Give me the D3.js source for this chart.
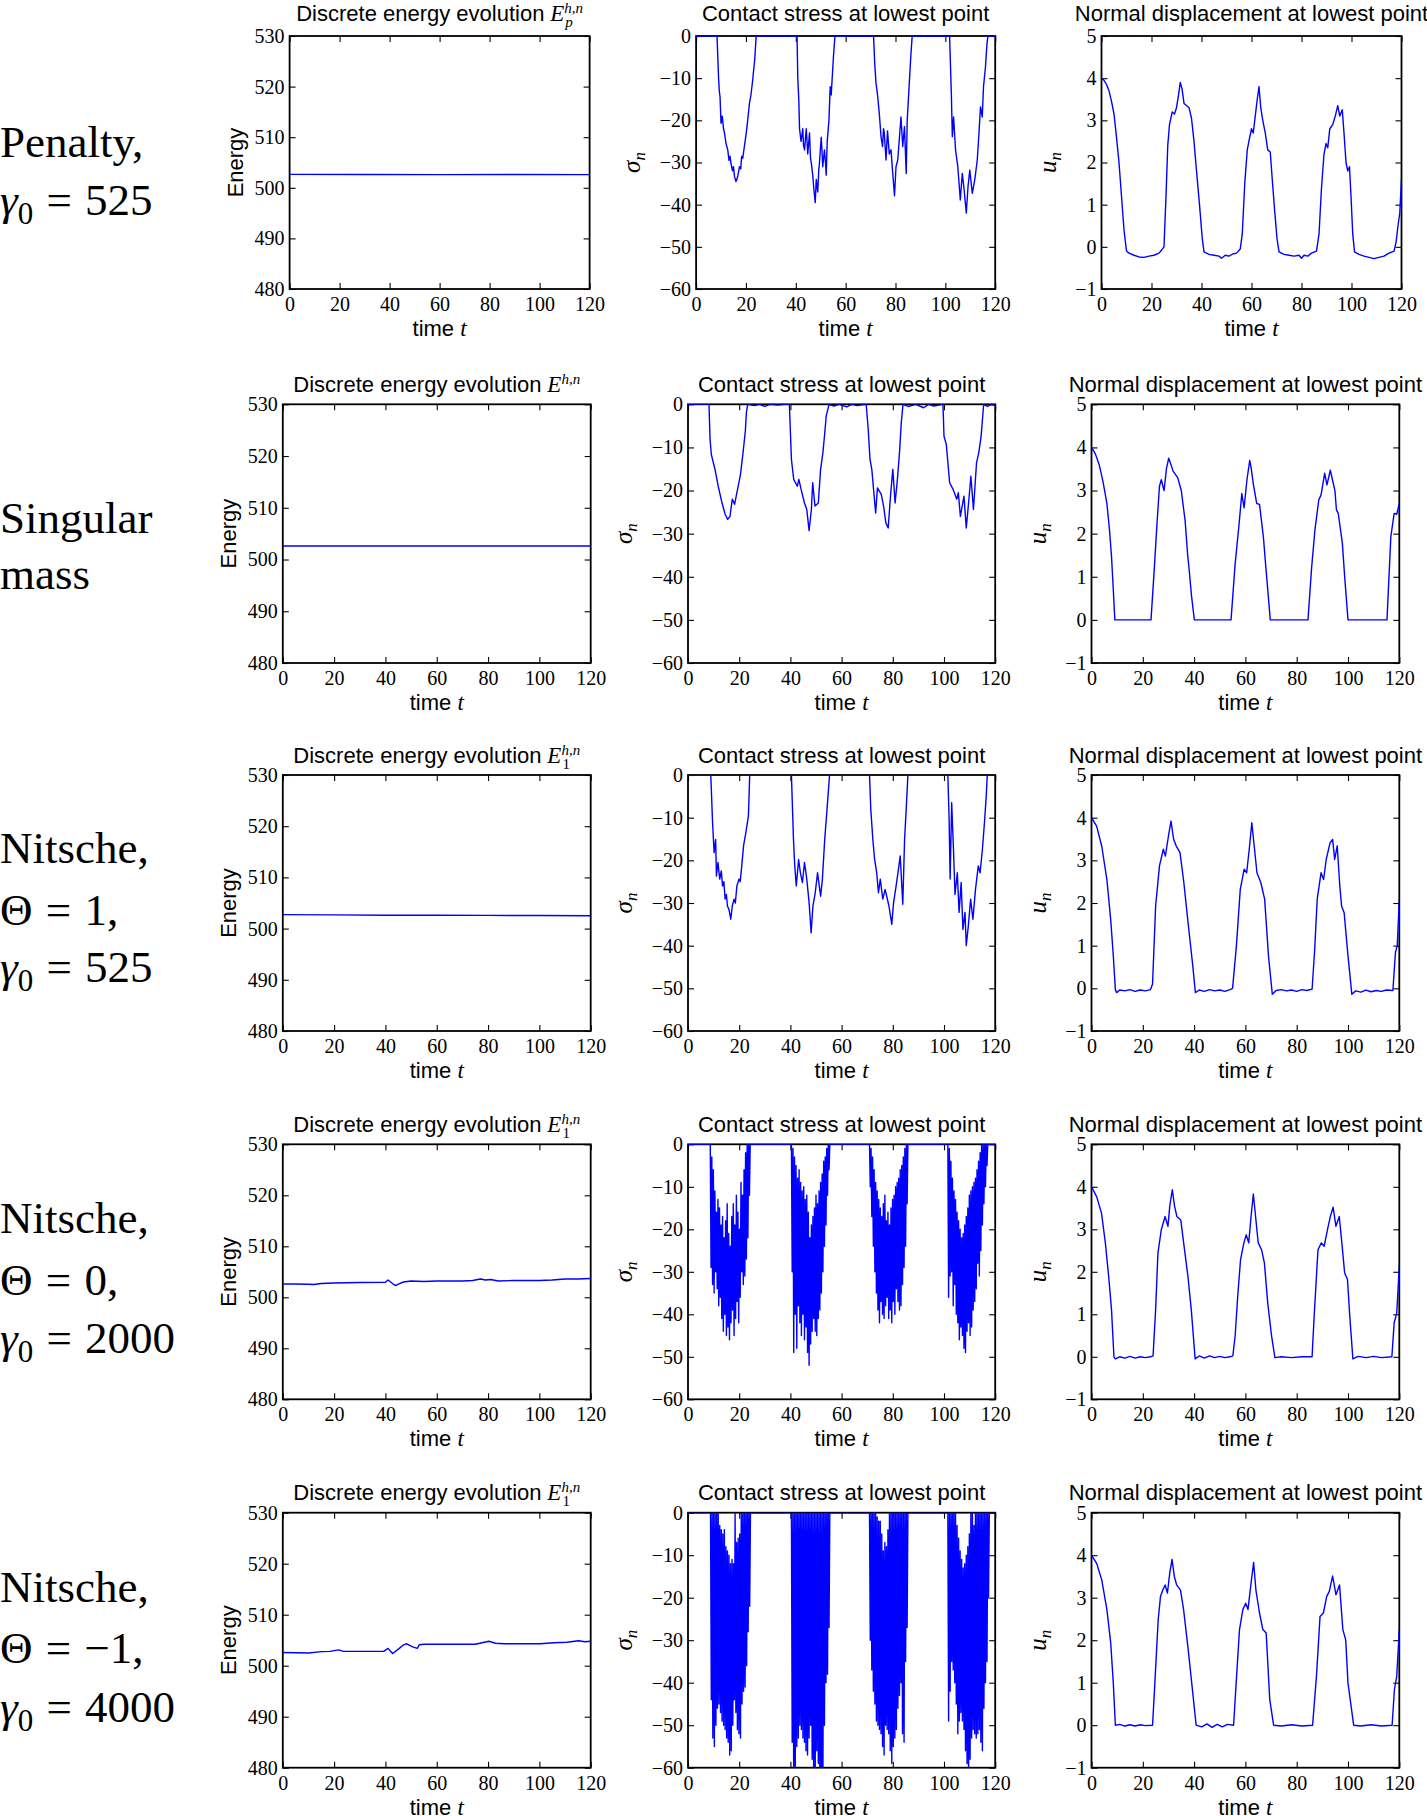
<!DOCTYPE html>
<html>
<head>
<meta charset="utf-8">
<script src="https://d3js.org/d3.v7.min.js"></script>
<style>
body { margin: 0; background: #fff; }
svg { display: block; }
</style>
</head>
<body>
<svg id="fig"></svg>
<script>

// ---------- data ----------
var timeTicks = [0, 20, 40, 60, 80, 100, 120];
var energyTicks = [480, 490, 500, 510, 520, 530];
var stressTicks = [0, -10, -20, -30, -40, -50, -60];
var dispTicks = [-1, 0, 1, 2, 3, 4, 5];

// energy, [t, E]
var energyPenalty = [[0,502.65],[30,502.62],[60,502.6],[90,502.62],[120,502.6]];
var energySingular = [[0,502.62],[40,502.6],[80,502.62],[120,502.6]];
var energyTheta1 = [[0,502.72],[20,502.68],[40,502.62],[60,502.6],[80,502.58],[100,502.55],[120,502.5]];
var energyTheta0 = [[0,502.6],[5,502.6],[10,502.55],[12,502.5],[15,502.7],[20,502.8],[30,502.9],[40,502.95],
  [41,503.4],[42,503.0],[43,502.6],[44,502.3],[45,502.6],[47,503.0],[50,503.2],[55,503.1],[60,503.2],[70,503.2],
  [74,503.3],[77,503.6],[79,503.4],[81,503.5],[84,503.2],[90,503.3],[100,503.3],[105,503.4],[110,503.6],[115,503.6],[120,503.7]];
var energyThetaM1 = [[0,502.6],[10.1,502.5],[15,502.75],[18.3,502.8],[21.8,503.1],[23.6,502.8],[39.3,502.8],[41,503.4],
  [41.9,502.9],[42.8,502.4],[45.4,503.4],[47.1,504.1],[48.3,504.3],[50.6,503.7],[52.4,503.4],[53.2,504.1],[55,504.2],
  [75,504.2],[77.7,504.5],[80.3,504.8],[82.9,504.4],[86.4,504.3],[100.3,504.3],[105.6,504.5],[110.8,504.6],
  [115.2,504.9],[117.8,504.7],[120,504.8]];

// contact stress, [t, sigma_n]
var stressPenalty = [[0,0],[8.4,0],[9.0,-9.7],[9.3,-13],[9.6,-14.4],[10.0,-20.7],[10.5,-19],[11.0,-22],[11.4,-23],
  [12.0,-25.5],[12.7,-27],[13.2,-29.5],[13.6,-28.5],[14.0,-30.2],[14.6,-32],[15.0,-31],[15.4,-33.3],[16.0,-34.5],
  [16.3,-34.1],[16.8,-33],[17.4,-31],[17.9,-31.5],[18.3,-28.5],[18.7,-29],[19.3,-26.5],[20.1,-23.1],[20.7,-20],
  [21.4,-16],[22.0,-14],[22.7,-10.5],[23.1,-8],[23.5,-5.8],[24.1,0],
  [40.5,0],[40.8,-10],[41.2,-15],[41.5,-22],[42.1,-25],[42.8,-22],[43.1,-26],[43.5,-27],[44.2,-22],[44.8,-28],
  [45.5,-23],[45.9,-29],[46.2,-30],[46.8,-33],[47.2,-36],[47.8,-39.5],[48.2,-34],[48.8,-37],[49.2,-32],[49.5,-30],
  [50.2,-24],[50.5,-27],[50.8,-31],[51.5,-27],[51.9,-30],[52.2,-33],[52.6,-25],[53.3,-20],[53.8,-12],[54.2,-14],
  [54.6,-10],[55.1,-5],[55.7,0],
  [71.2,0],[71.7,-7],[72.2,-11.3],[72.8,-14],[73.5,-18.4],[74.2,-23.9],[74.8,-26.2],[75.2,-22],[75.5,-23],
  [76.2,-29.4],[76.8,-22.5],[77.5,-28],[78.2,-27],[78.9,-32.6],[79.6,-37.9],[80.2,-31],[80.9,-29.4],[81.6,-23.9],
  [82.2,-19.2],[82.9,-26.2],[83.6,-21.5],[84.3,-32.6],[84.7,-20],[85.6,-10.5],[86.2,-4.2],[86.7,0],
  [101.7,0],[102.4,-13.6],[102.8,-23.9],[103.3,-19.2],[104.1,-27.1],[105.0,-31],[106.0,-38.9],[106.8,-32.6],
  [107.4,-35.7],[108.4,-42],[109.1,-35.7],[109.8,-31.8],[110.8,-37.3],[111.8,-34.1],[112.8,-29.4],[113.4,-23.9],
  [114.1,-16.8],[114.8,-19.2],[115.3,-12.1],[116.1,-7.3],[116.7,-1.8],[117.1,0],[120,0]];
var stressSingular = [[0,0],[8.2,0],[8.6,-8],[9.1,-11.6],[10.5,-15],[11.8,-19],[13.3,-22.9],[14.5,-25.5],[15.5,-26.7],
  [16.4,-26],[17.3,-22],[18.2,-23.2],[19.1,-20.5],[20.5,-16.3],[21.5,-11.2],[22.4,-6.2],[22.8,-2],[23.3,0],[26,-0.3],
  [28,0],[30,-0.5],[32,0],[35,-0.2],[38,0],[39.6,0],[40.4,-12.8],[41.3,-17.4],[42.7,-19],[43.3,-17.4],[44.2,-19.8],
  [45.5,-22.9],[46.4,-24.4],[47.3,-29.3],[48.2,-24.4],[48.7,-18.2],[49.6,-23.6],[50.9,-22.9],[51.8,-15.1],[52.7,-11.2],
  [53.3,-7.4],[54,-2.7],[55.1,0],[57,-0.4],[59,0],[62,-0.6],[64,0],[66,-0.3],[69.6,0],[70.4,-5.8],[71.1,-12.8],
  [71.8,-15.1],[73.3,-25.2],[74,-19.4],[75.5,-20.9],[76.4,-23.6],[77.3,-27.5],[78.2,-28.7],[79.1,-21.3],[80,-15.1],
  [80.9,-22.9],[81.8,-17.4],[82.7,-10.5],[83.3,-4.3],[84,0],[86,-0.5],[89,0],[92,-0.8],[94,0],[96,-0.4],[99.6,0],
  [100,-7.4],[100.9,-9.3],[102.2,-18.2],[103.6,-19.8],[105,-22],[105.6,-20.5],[106.4,-26],[107.3,-22.9],[107.8,-21.3],
  [108.7,-28.7],[109.6,-22.9],[110.5,-16.7],[111.5,-24.4],[112.7,-13.6],[113.6,-11.2],[114.5,-7.4],[115.5,0],
  [117,-0.5],[118.5,0],[120,-0.3]];
var stressTheta1 = [[0,0],[8.9,0],[9.6,-11.2],[10.2,-18.2],[10.8,-15.1],[11.1,-23.7],[11.7,-20.5],[12.4,-24.4],
  [13.0,-22.5],[13.5,-26],[14.0,-25],[14.5,-29.1],[15.0,-28],[15.4,-30.7],[16.0,-31.5],[16.7,-33.8],[17.3,-30.7],
  [18,-29.1],[18.5,-30],[19.1,-26],[19.9,-24.4],[20.4,-25],[21,-21.3],[21.7,-16.6],[22.6,-13.5],[23.6,-9.6],[24.1,0],
  [40.4,0],[41.2,-15.1],[41.7,-21.3],[42.3,-26],[43.2,-19.8],[43.9,-22.9],[44.7,-25.2],[45.5,-20.5],[46.4,-24.4],
  [47.3,-29.9],[48.1,-37],[48.8,-30.7],[49.7,-27.6],[50.6,-22.9],[51.8,-28.4],[52.5,-24.4],[53.4,-15.1],[54.4,-7.3],
  [55.3,0],
  [70.9,0],[71.4,-8],[72.2,-15.1],[72.9,-19.8],[73.7,-22.9],[74.4,-27.6],[75.1,-24.4],[76.1,-29.1],[77,-26.8],
  [78.5,-30.7],[79.6,-35],[80.3,-29.9],[81.3,-26],[82.2,-22.1],[82.9,-19],[83.9,-30.3],[84.6,-15.1],[85.3,-7.3],[85.9,0],
  [101.5,0],[102,-10.4],[102.4,-24.4],[103,-6.5],[103.7,-17.4],[104.3,-28],[105.2,-22.9],[105.9,-32.2],[106.7,-25.2],
  [107.4,-36.2],[108.2,-32.2],[108.7,-40],[109.5,-35.4],[110.4,-29.1],[111.3,-33.8],[112.3,-26.8],[113.4,-21.3],
  [114.1,-22.9],[115,-17.4],[115.9,-10.4],[116.5,-4.9],[116.9,0],[120,0]];

// dense chattering stress: [start time, values every burstStep]
var burstStep = 0.3;
var stressTheta0Bursts = [
  [8.7, [0,-29,-3,-33,-6,-35,-11,-30,-16,-34,-13,-38,-15,-36,-19,-41,-17,-44,-22,-40,-18,-45,-14,-43,-21,-46,-24,-42,
         -17,-39,-14,-45,-19,-41,-12,-37,-16,-42,-20,-36,-9,-30,-12,-33,-6,-31,-2,-27,0,-22,0,-12,0]],
  [40.4, [0,-30,-1,-49,-3,-40,-5,-48,-8,-38,-6,-42,-9,-45,-11,-40,-10,-46,-13,-43,-12,-49,-16,-52,-22,-47,-19,-44,
          -17,-41,-15,-44,-12,-45,-14,-41,-11,-39,-9,-35,-7,-30,-4,-24,-3,-19,-1,-12,0,-6,0,0]],
  [70.9, [0,-10,-1,-17,-3,-24,-6,-30,-9,-35,-11,-39,-13,-42,-15,-37,-17,-40,-14,-41,-12,-38,-18,-36,-16,-41,-19,-39,
          -15,-42,-13,-37,-12,-40,-10,-34,-9,-37,-8,-39,-6,-38,-5,-33,-3,-29,-1,-24,0,-14,0,0]],
  [101.5, [0,-36,-1,-31,-4,-30,-8,-38,-11,-33,-13,-40,-16,-42,-18,-46,-20,-43,-22,-45,-21,-48,-19,-49,-17,-44,-15,-42,
           -12,-45,-11,-43,-10,-39,-9,-37,-8,-34,-6,-28,-4,-31,-2,-25,0,-19,0,-14,0,-10,0,-5,0]]
];
var stressThetaM1Bursts = [
  [8.8, [0,-44,0,-53,0,-55,0,-50,0,-46,0,-45,-3,-47,-4,-49,-5,-50,-4,-51,-8,-53,-9,-54,-10,-57,-12,-56,-11,-50,-12,-44,
         0,-47,-7,-51,-6,-52,-5,-53,0,-45,0,-42,0,-41,0,-36,0,-28,0,-22,0,0]],
  [40.4, [0,-54,0,-65,0,-60,0,-55,0,-53,0,-50,0,-51,0,-53,0,-54,0,-56,0,-57,0,-53,0,-50,0,-58,0,-65,0,-61,0,-56,0,-59,
          0,-64,0,-66,0,-65,0,-50,0,-40,0,-38,0,-27,0,0]],
  [70.9, [0,-30,0,-37,0,-42,0,-45,0,-49,-1,-50,-2,-51,-2,-52,-5,-55,-9,-57,-7,-50,-8,-51,-4,-52,0,-56,0,-59,0,-55,0,-53,
          0,-51,0,-46,0,-43,0,-40,0,-52,0,-54,0,-35,0,-27,0,0]],
  [101.5, [0,-49,0,-42,0,-35,0,-37,0,-40,0,-45,-3,-52,-6,-49,-9,-47,-11,-49,-13,-51,-12,-56,-10,-59,-8,-63,-5,-58,0,-53,
           0,-51,-3,-52,0,-53,0,-52,0,-51,0,-54,0,-56,0,-46,0,-40,0,-35,0,-20,0]]
];

// normal displacement, [t, u_n]
var dispPenalty = [[0,4.0],[1,3.95],[2,3.85],[3,3.7],[4,3.45],[5,3.15],[6,2.6],[7,2.0],[8,1.2],[9,0.4],[10,-0.1],
  [11,-0.15],[13,-0.2],[15,-0.24],[17,-0.25],[19,-0.22],[21,-0.2],[23,-0.15],[24,-0.08],[25,0.0],[25.8,1.2],[26.5,2.4],
  [27.2,2.9],[28.3,3.2],[29.2,3.15],[30,3.3],[30.8,3.6],[31.5,3.9],[32.2,3.75],[33,3.4],[34,3.35],[35,3.3],[36,3.05],
  [37,2.5],[38,1.8],[39.2,1.0],[40.3,0.2],[41,-0.12],[43,-0.18],[45,-0.2],[47,-0.22],[48,-0.27],[49.5,-0.2],[51,-0.22],
  [52.5,-0.17],[54,-0.15],[55.5,-0.05],[56.3,0.3],[57.3,1.5],[58.3,2.3],[59.3,2.6],[60,2.8],[60.7,2.7],[61.5,3.1],
  [62.3,3.5],[63,3.8],[63.7,3.3],[64.5,3.0],[65.5,2.7],[66.5,2.3],[67.5,2.25],[68.3,1.6],[69.2,0.9],[70.2,0.2],
  [71,-0.12],[73,-0.18],[75,-0.2],[77,-0.22],[79,-0.2],[80,-0.27],[81,-0.2],[82.5,-0.22],[84,-0.15],[86,-0.1],[87,0.3],
  [88,1.4],[89,2.2],[89.8,2.45],[90.5,2.35],[91.3,2.8],[92.5,2.9],[93.5,3.1],[94.5,3.35],[95.3,3.1],[96.3,3.25],
  [97,2.7],[97.8,2.0],[98.5,1.8],[99.2,1.9],[99.8,1.2],[100.5,0.3],[101.2,-0.12],[103,-0.18],[105,-0.22],[107,-0.25],
  [109,-0.28],[111,-0.25],[113,-0.22],[115,-0.15],[117,-0.1],[117.8,0.1],[118.6,0.5],[119.3,0.8],[120,1.6]];
var dispSingular = [[0,4.0],[1.5,3.85],[3,3.6],[4.5,3.2],[6,2.7],[7,2.1],[7.8,1.47],[8.5,0.7],[9.1,0],[23.2,0],
  [24.5,1.2],[25.5,2.2],[26.5,3.1],[27.2,3.25],[28.3,3.0],[29.2,3.5],[30.1,3.75],[31,3.6],[31.8,3.45],[33.6,3.3],
  [35,3.0],[36.5,2.3],[37.5,1.5],[38.1,1.15],[39,0.55],[40.1,0],[54.4,0],[56,1.3],[57.5,2.2],[58.6,2.93],[59.5,2.6],
  [60.6,3.25],[61.7,3.7],[62.3,3.5],[63.1,3.15],[64.4,2.7],[65.5,2.68],[67,1.93],[68,1.2],[69.7,0],[84.4,0],[85.8,1.2],
  [87.1,2.08],[88.6,2.78],[89.5,2.9],[90.9,3.4],[91.8,3.13],[93.1,3.47],[94.9,3.0],[95.5,2.55],[96.2,2.47],[97.8,1.78],
  [98.7,1.0],[100,0],[115.2,0],[116.7,1.93],[118,2.47],[119,2.45],[120,2.7]];
var dispTheta1 = [[0,4.0],[2,3.8],[4,3.33],[6,2.55],[7.5,1.6],[8.5,0.76],[9.3,-0.03],[9.8,-0.1],[11,-0.04],[13,-0.06],
  [15,-0.03],[17,-0.07],[19,-0.04],[21,-0.06],[23,-0.03],[23.8,0.1],[25,1.93],[26.5,2.87],[28,3.26],[28.8,3.1],[30,3.57],
  [31,3.92],[32,3.5],[33,3.34],[34.5,3.18],[36,2.48],[37.5,1.62],[39.5,0.52],[40.5,-0.1],[42,-0.04],[44,-0.07],
  [46,-0.03],[48,-0.06],[50,-0.04],[52,-0.07],[54,-0.03],[55,0.0],[56.5,1.0],[58,2.32],[59.5,2.79],[60.5,2.71],
  [61.5,3.26],[62.5,3.88],[63.5,3.3],[64.5,2.71],[66,2.48],[67.5,2.09],[69,0.76],[70.5,-0.14],[72,-0.05],[74,-0.03],
  [76,-0.06],[78,-0.04],[80,-0.07],[82,-0.03],[84,-0.05],[86,-0.02],[87,0.9],[88,2.09],[89.5,2.71],[90.5,2.55],
  [91.5,3.02],[93,3.41],[94,3.49],[94.8,3.02],[95.8,3.34],[96.8,2.4],[97.5,1.93],[98.5,1.77],[100,0.76],[101.5,-0.14],
  [103,-0.06],[105,-0.09],[107,-0.04],[109,-0.08],[111,-0.05],[113,-0.07],[115,-0.04],[117.5,-0.05],[118.5,0.84],
  [119.2,1.0],[120,2.09]];
var dispTheta0 = [[0,4.0],[2,3.77],[3.9,3.38],[5.4,2.68],[6.7,1.89],[7.8,1.11],[8.75,0],[9.3,-0.05],[11,0],[13,-0.03],
  [15,0.01],[17,-0.03],[19,0],[21,-0.02],[23,0],[24,0.02],[25,1.11],[25.9,2.44],[27.2,2.99],[28.7,3.3],[29.8,3.07],
  [30.5,3.54],[31.5,3.93],[32.4,3.54],[33.3,3.3],[34.8,3.22],[36.1,2.6],[37.6,1.89],[38.9,1.11],[40.4,-0.05],[42,0.02],
  [44,-0.03],[46,0.02],[48,-0.02],[50,0.01],[52,-0.02],[54,0],[55.1,0.02],[56,0.49],[57,1.42],[58.1,2.28],[59.4,2.68],
  [60.3,2.87],[61.3,2.68],[62.2,3.3],[63.1,3.83],[64.1,3.22],[65,2.68],[66.3,2.52],[67.4,2.21],[68.7,1.27],[70.2,0.49],
  [71.5,-0.02],[74,0],[78,-0.02],[82,0],[86,0],[86.8,0.95],[88.3,2.52],[89.6,2.68],[90.7,2.6],[92,2.99],[93.1,3.3],
  [94.2,3.52],[95.3,3.07],[96.6,3.3],[97.6,2.68],[98.7,1.97],[99.8,1.82],[100.7,0.95],[101.9,-0.05],[104,0.01],
  [107,-0.02],[110,0.01],[113,-0.02],[117.1,0],[118,0.8],[119,1.03],[120,2.13]];
var dispThetaM1 = [[0,4.0],[2,3.81],[4,3.42],[6,2.72],[7.5,1.93],[8.5,0.99],[9.3,0],[11,0.02],[13,-0.02],[15,0.01],
  [17,-0.02],[19,0.01],[21,-0.01],[23.8,0],[24.7,0.99],[26,2.48],[26.9,3.03],[27.8,3.18],[28.7,3.3],[29.6,3.11],
  [30.5,3.58],[31.4,3.9],[32.3,3.5],[33.2,3.3],[34.7,3.18],[35.9,2.72],[37.7,1.78],[39.2,0.92],[40.8,0],[43,-0.04],
  [45,0.03],[47,-0.05],[49,0.02],[51,-0.04],[53,0.02],[55.4,0],[56.4,0.99],[57.7,2.25],[59,2.72],[60.1,2.87],[61,2.72],
  [62.2,3.34],[63.2,3.83],[64.1,3.18],[65.5,2.64],[66.8,2.25],[68.1,2.17],[69.5,0.6],[71,0],[74,-0.02],[78,0.01],
  [82,-0.02],[86.2,0],[87.7,1.15],[89.1,2.56],[90.4,2.64],[91.7,3.03],[92.7,3.15],[94,3.51],[95.3,3.07],[96.7,3.3],
  [98,2.25],[99.1,2.01],[100,0.99],[102.2,0],[105,-0.02],[109,0.01],[113,-0.02],[117.2,0],[118.1,0.84],[119,1.15],[120,2.25]];

// ---------- layout ----------
var SANS = "'Liberation Sans', Arial, sans-serif";
var SERIF = "'Liberation Serif', 'Times New Roman', serif";
var LINE = "#0000ff";

var colsFirst = [[289.6, 589.6], [696.1, 995.2], [1101.5, 1401.5]];
var colsRest = [[282.8, 590.7], [688, 995.2], [1091.5, 1399.3]];

var rows = [
  {top: 36, bottom: 289, cols: colsFirst, titleY: 21,
   label: [[["Penalty,","r"]], [["\u03b3","i"],["0","s"],[" = 525","r"]]], labelY: [157, 215],
   energy: energyPenalty, eSub: ["p", true], stress: stressPenalty, disp: dispPenalty},
  {top: 404.3, bottom: 663, cols: colsRest, titleY: 392,
   label: [[["Singular","r"]], [["mass","r"]]], labelY: [533, 589],
   energy: energySingular, eSub: null, stress: stressSingular, disp: dispSingular},
  {top: 775, bottom: 1031, cols: colsRest, titleY: 763,
   label: [[["Nitsche,","r"]], [["\u0398 = 1,","r"]], [["\u03b3","i"],["0","s"],[" = 525","r"]]], labelY: [863, 925, 982],
   energy: energyTheta1, eSub: ["1", false], stress: stressTheta1, disp: dispTheta1},
  {top: 1144.3, bottom: 1399.3, cols: colsRest, titleY: 1132,
   label: [[["Nitsche,","r"]], [["\u0398 = 0,","r"]], [["\u03b3","i"],["0","s"],[" = 2000","r"]]], labelY: [1233, 1295, 1353],
   energy: energyTheta0, eSub: ["1", false], stress: stressTheta0Bursts, disp: dispTheta0},
  {top: 1512.7, bottom: 1767.7, cols: colsRest, titleY: 1500,
   label: [[["Nitsche,","r"]], [["\u0398 = \u22121,","r"]], [["\u03b3","i"],["0","s"],[" = 4000","r"]]], labelY: [1602, 1663, 1722],
   energy: energyThetaM1, eSub: ["1", false], stress: stressThetaM1Bursts, disp: dispThetaM1}
];

var svg = d3.select("#fig").attr("width", 1427).attr("height", 1816);
svg.append("rect").attr("width", 1427).attr("height", 1816).attr("fill", "#fff");
var defs = svg.append("defs");
var clipCount = 0;

// turn burst lists into [t, v] points (0 between bursts)
var burstsToPoints = function(bursts)
{
    var pts = [[0, 0]];
    bursts.forEach(function(b) {
        b[1].forEach(function(v, i) { pts.push([b[0] + i * burstStep, v]); });
    });
    pts.push([120, 0]);
    return pts;
}

var addTitle = function(cx, y, words, withE, sub)
{
    var t = svg.append("text")
        .attr("x", 0).attr("y", y)
        .attr("font-family", SANS).attr("font-size", 22).attr("fill", "#000");
    t.append("tspan").text(words);
    if (withE)
    {
        t.append("tspan").attr("font-family", SERIF).attr("font-style", "italic")
            .attr("font-size", 23).text(" E");
        var sup = t.append("tspan").attr("font-family", SERIF).attr("font-style", "italic")
            .attr("font-size", 15).attr("dy", -8).text("h,n");
        if (sub)
        {
            var w = sup.node().getComputedTextLength();
            t.append("tspan").attr("font-family", SERIF)
                .attr("font-style", sub[1] ? "italic" : "normal")
                .attr("font-size", 15).attr("dx", -w + 1).attr("dy", 14).text(sub[0]);
        }
    }
    var bw = t.node().getBBox().width;
    t.attr("x", cx - bw / 2);
}

var addYLabel = function(x, y, kind)
{
    var t = svg.append("text")
        .attr("transform", "translate(" + x + "," + y + ") rotate(-90)")
        .attr("text-anchor", "middle").attr("fill", "#000");
    if (kind == "energy")
    {
        t.attr("font-family", SANS).attr("font-size", 22).text("Energy");
    }
    else
    {
        t.attr("font-family", SERIF).attr("font-style", "italic");
        t.append("tspan").attr("font-size", 25).text(kind == "stress" ? "\u03c3" : "u");
        t.append("tspan").attr("font-size", 17).attr("dy", 5).text("n");
    }
}

var addXLabel = function(cx, y)
{
    var t = svg.append("text").attr("x", cx).attr("y", y)
        .attr("text-anchor", "middle").attr("fill", "#000");
    t.append("tspan").attr("font-family", SANS).attr("font-size", 22).text("time ");
    t.append("tspan").attr("font-family", SERIF).attr("font-style", "italic").attr("font-size", 23).text("t");
}

var drawPanel = function(x0, x1, top, bottom, yDomain, yTicks, points)
{
    var xScale = d3.scaleLinear().domain([0, 120]).range([x0, x1]);
    var yScale = d3.scaleLinear().domain(yDomain).range([bottom, top]);

    var clipId = "clip" + (clipCount++);
    defs.append("clipPath").attr("id", clipId)
        .append("rect").attr("x", x0).attr("y", top)
        .attr("width", x1 - x0).attr("height", bottom - top);

    var lineGenerator = d3.line()
        .x(function(d) { return xScale(d[0]); })
        .y(function(d) { return yScale(d[1]); });

    var axes = svg.append("g");
    var styleAxis = function(g)
    {
        g.select(".domain").remove();
        g.selectAll(".tick line").attr("stroke", "#000").attr("stroke-width", 1.1);
        g.selectAll("text").attr("font-family", SERIF).attr("font-size", 20).attr("fill", "#000");
    }
    var fmt = d3.format("d");
    axes.append("g").attr("transform", "translate(0," + bottom + ")")
        .call(d3.axisBottom(xScale).tickValues(timeTicks).tickFormat(fmt).tickSize(-6).tickPadding(8))
        .call(styleAxis);
    axes.append("g").attr("transform", "translate(0," + top + ")")
        .call(d3.axisTop(xScale).tickValues(timeTicks).tickSize(-6).tickFormat(""))
        .call(styleAxis);
    axes.append("g").attr("transform", "translate(" + x0 + ",0)")
        .call(d3.axisLeft(yScale).tickValues(yTicks).tickFormat(fmt).tickSize(-6).tickPadding(5))
        .call(styleAxis);
    axes.append("g").attr("transform", "translate(" + x1 + ",0)")
        .call(d3.axisRight(yScale).tickValues(yTicks).tickSize(-6).tickFormat(""))
        .call(styleAxis);

    svg.append("rect")
        .attr("x", x0).attr("y", top)
        .attr("width", x1 - x0).attr("height", bottom - top)
        .attr("fill", "none").attr("stroke", "#000").attr("stroke-width", 1.8);

    svg.append("path")
        .datum(points)
        .attr("clip-path", "url(#" + clipId + ")")
        .attr("fill", "none")
        .attr("stroke", LINE)
        .attr("stroke-width", 1.4)
        .attr("stroke-linejoin", "round")
        .attr("d", lineGenerator);
}

rows.forEach(function(r, ri)
{
    // row label (LaTeX-like text on the left)
    r.label.forEach(function(line, li)
    {
        var t = svg.append("text").attr("x", 0).attr("y", r.labelY[li])
            .attr("font-family", SERIF).attr("font-size", 45).attr("fill", "#000")
            .attr("word-spacing", 2);
        var shifted = false;
        line.forEach(function(seg)
        {
            var s = t.append("tspan").text(seg[0]);
            if (seg[1] == "i") s.attr("font-style", "italic");
            if (seg[1] == "s") { s.attr("font-size", 31).attr("dy", 9); shifted = true; }
            else if (shifted) { s.attr("dy", -9); shifted = false; }
        });
    });

    var ec = r.cols[0], sc = r.cols[1], dc = r.cols[2];
    var stressPts = Array.isArray(r.stress[0][1]) ? burstsToPoints(r.stress) : r.stress;

    drawPanel(ec[0], ec[1], r.top, r.bottom, [480, 530], energyTicks, r.energy);
    drawPanel(sc[0], sc[1], r.top, r.bottom, [-60, 0], stressTicks, stressPts);
    drawPanel(dc[0], dc[1], r.top, r.bottom, [-1, 5], dispTicks, r.disp);

    addTitle((ec[0] + ec[1]) / 2, r.titleY, "Discrete energy evolution", true, r.eSub);
    addTitle((sc[0] + sc[1]) / 2, r.titleY, "Contact stress at lowest point", false);
    addTitle((dc[0] + dc[1]) / 2, r.titleY, "Normal displacement at lowest point", false);

    var mid = (r.top + r.bottom) / 2;
    addYLabel(ec[0] - 47, mid, "energy");
    addYLabel(sc[0] - 56, mid, "stress");
    addYLabel(dc[0] - 46, mid, "disp");

    [ec, sc, dc].forEach(function(c) { addXLabel((c[0] + c[1]) / 2, r.bottom + 47); });
});

</script>
</body>
</html>
